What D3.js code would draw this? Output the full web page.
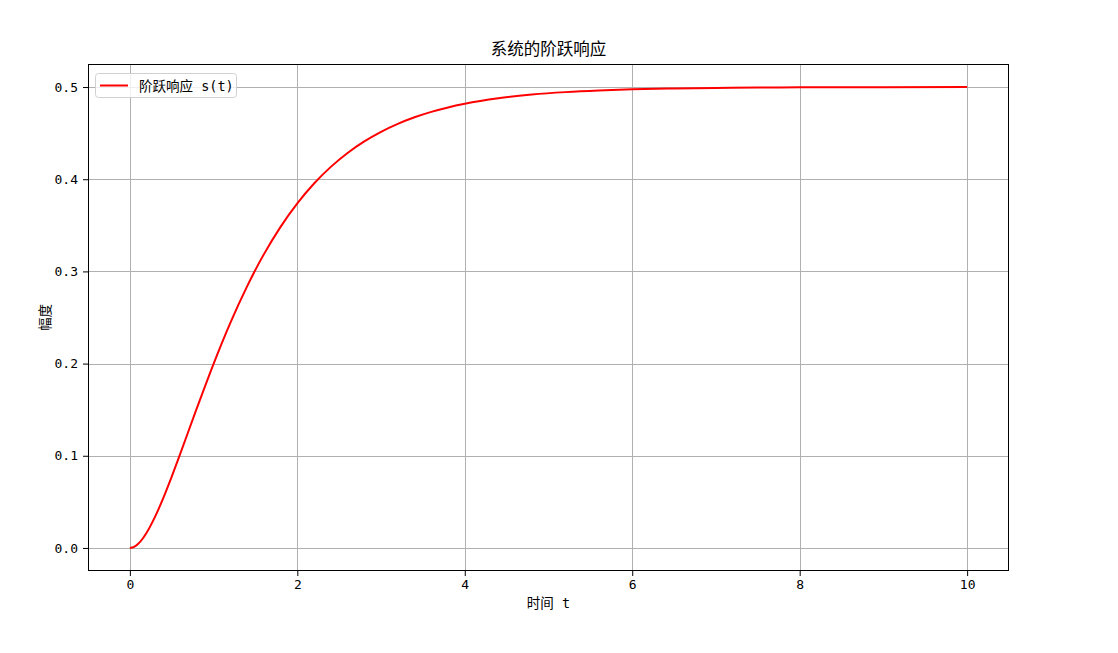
<!DOCTYPE html>
<html><head><meta charset="utf-8">
<script src="https://cdn.jsdelivr.net/npm/d3@7"></script>
<style>body{margin:0;background:#fff}text{font-family:"DejaVu Sans Mono","Noto Sans CJK SC",sans-serif}</style>
</head><body>
<svg id="c" width="1118" height="653"></svg>
<script>
const tVals = [0,0.05,0.1,0.15,0.2,0.3,0.4,0.5,0.6,0.8,1.0,1.2,1.4,1.6,1.8,2.0,2.2,2.4,2.6,2.8,3.0,3.2,3.4,3.6,3.8,4.0,4.4,4.8,5.2,5.6,6.0,6.5,7.0,7.5,8.0,9.0,10.0];
const sVals = [0,0.00119,0.00453,0.00972,0.01643,0.03367,0.05434,0.07741,0.10179,0.15162,0.19979,0.24417,0.28381,0.31848,0.34836,0.37382,0.39534,0.41339,0.42849,0.44104,0.45145,0.46007,0.46719,0.47305,0.47788,0.48185,0.48780,0.49180,0.49449,0.49631,0.49752,0.49850,0.49909,0.49945,0.49966,0.49988,0.49995];
const xTicks = [0,2,4,6,8,10];
const yTicks = [0.0,0.1,0.2,0.3,0.4,0.5];
const titleText = "系统的阶跃响应";
const xLabel = "时间 t";
const yLabel = "幅度";
const legendText = "阶跃响应 s(t)";

const FONT = '"DejaVu Sans Mono","Noto Sans CJK SC",sans-serif';
const svg = d3.select("#c");
const L=88,R=1009,T=64,B=571;
const x = d3.scaleLinear().domain([-0.5,10.5]).range([L,R]);
const y = d3.scaleLinear().domain([-0.025,0.525]).range([B,T]);

// grid
svg.append("g").selectAll("line").data(xTicks).join("line")
  .attr("x1",d=>Math.round(x(d))+0.5).attr("x2",d=>Math.round(x(d))+0.5).attr("y1",T).attr("y2",B)
  .attr("stroke","#b0b0b0").attr("stroke-width",1);
svg.append("g").selectAll("line").data(yTicks).join("line")
  .attr("y1",d=>Math.round(y(d))+0.5).attr("y2",d=>Math.round(y(d))+0.5).attr("x1",L).attr("x2",R)
  .attr("stroke","#b0b0b0").attr("stroke-width",1);

// line
const data = tVals.map((t,i)=>[t,sVals[i]]);
svg.append("path").datum(data)
  .attr("d", d3.line().x(d=>x(d[0])).y(d=>y(d[1])).curve(d3.curveMonotoneX))
  .attr("fill","none").attr("stroke","#ff0000").attr("stroke-width",2);

// axes
const xa = svg.append("g").attr("transform",`translate(0,${B})`)
  .call(d3.axisBottom(x).tickValues(xTicks).tickFormat(d3.format("d")).tickSize(5).tickPadding(4));
const ya = svg.append("g").attr("transform",`translate(${L},0)`)
  .call(d3.axisLeft(y).tickValues(yTicks).tickFormat(d3.format(".1f")).tickSize(5).tickPadding(5));
[xa,ya].forEach(a=>{a.select(".domain").remove();a.selectAll("text").attr("font-size",13).attr("fill","#000").style("font-family",FONT);a.selectAll("line").attr("stroke","#000");});

svg.append("rect").attr("x",L+0.5).attr("y",T+0.5).attr("width",R-L-1).attr("height",B-T-1)
  .attr("fill","none").attr("stroke","#000").attr("stroke-width",1);

// labels
svg.append("text").attr("x",(L+R)/2).attr("y",55).attr("text-anchor","middle").attr("font-size",16.5).text(titleText);
svg.append("text").attr("x",(L+R)/2).attr("y",608).attr("text-anchor","middle").attr("font-size",13.5).text(xLabel);
svg.append("text").attr("transform",`translate(50,${(T+B)/2}) rotate(-90)`).attr("text-anchor","middle").attr("font-size",13.5).text(yLabel);

// legend
const lg = svg.append("g");
lg.append("rect").attr("x",95.5).attr("y",73.5).attr("width",141).attr("height",24).attr("rx",3)
  .attr("fill","#fff").attr("fill-opacity",0.8).attr("stroke","#d0d0d0");
lg.append("line").attr("x1",100).attr("x2",128).attr("y1",85.5).attr("y2",85.5).attr("stroke","#ff0000").attr("stroke-width",2);
lg.append("text").attr("x",139).attr("y",90.5).attr("font-size",13.5).text(legendText);
</script>
</body></html>
